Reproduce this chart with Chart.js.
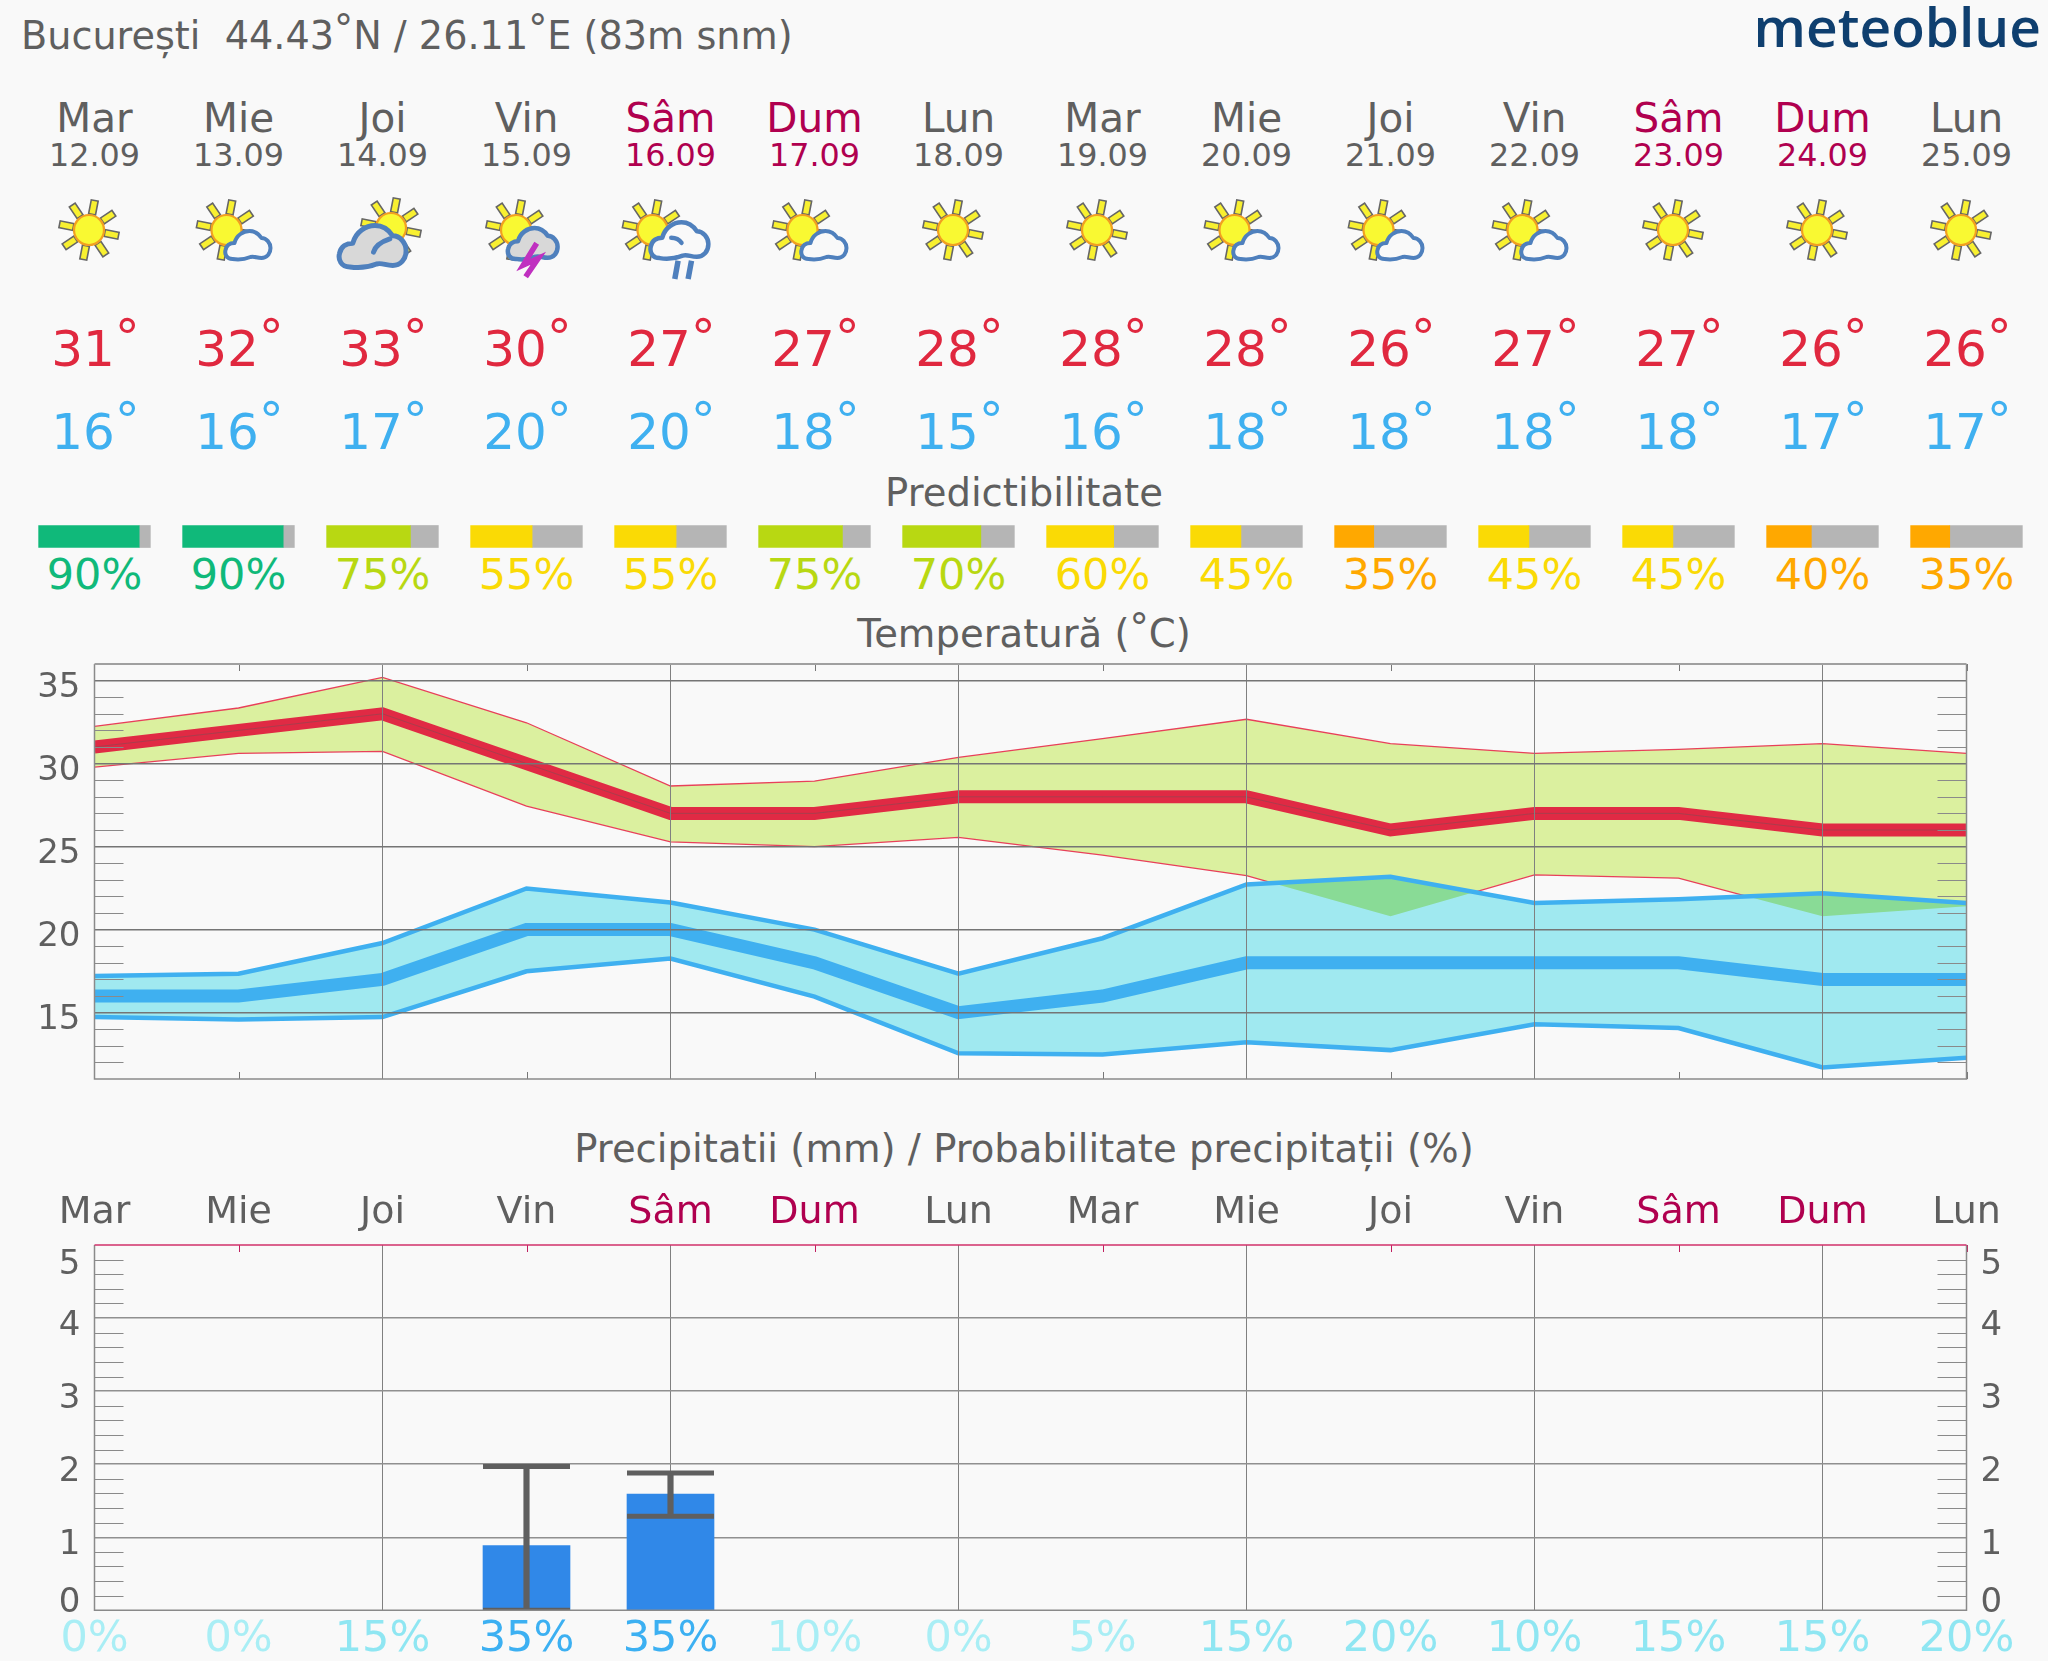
<!DOCTYPE html>
<html><head><meta charset="utf-8">
<script src="https://cdn.jsdelivr.net/npm/chart.js@4"></script>
<style>
html,body{margin:0;padding:0;background:#f9f9f9;width:2048px;height:1661px;overflow:hidden}
canvas,svg.page{position:absolute;left:0}
svg.page{top:0}
text{font-family:"DejaVu Sans";white-space:pre}
</style></head><body>
<svg class="page" id="page" width="2048" height="1661" xmlns="http://www.w3.org/2000/svg"></svg>
<canvas id="pred" width="2048" height="23" style="top:525px"></canvas>
<canvas id="temp" width="2048" height="440" style="top:650px"></canvas>
<canvas id="rain" width="2048" height="481" style="top:1180px"></canvas>
<script>
const days=['Mar','Mie','Joi','Vin','Sâm','Dum','Lun','Mar','Mie','Joi','Vin','Sâm','Dum','Lun'];
const dates=['12.09','13.09','14.09','15.09','16.09','17.09','18.09','19.09','20.09','21.09','22.09','23.09','24.09','25.09'];
const icons=['sun','partly','cloudy','storm','rain','partly','sun','sun','partly','partly','partly','sun','sun','sun'];
const tempMax=[31,32,33,30,27,27,28,28,28,26,27,27,26,26];
const tempMin=[16,16,17,20,20,18,15,16,18,18,18,18,17,17];
const predictability=[90,90,75,55,55,75,70,60,45,35,45,45,40,35];
const maxHigh=[32.24,33.35,35.19,32.46,28.65,28.95,30.37,31.51,32.67,31.2,30.62,30.86,31.2,30.62];
const maxLow=[29.79,30.62,30.74,27.44,25.29,25.0,25.55,24.49,23.25,20.8,23.3,23.1,20.8,21.41];
const minHigh=[17.2,17.34,19.19,22.48,21.63,20.0,17.34,19.48,22.72,23.18,21.6,21.83,22.19,21.6];
const minLow=[14.73,14.58,14.73,17.49,18.26,15.96,12.55,12.48,13.22,12.74,14.3,14.07,11.7,12.28];
const precipMm=[0,0,0,0.885,1.59,0,0,0,0,0,0,0,0,0];
const precipLow=[null,null,null,0,1.286,null,null,null,null,null,null,null,null,null];
const precipHigh=[null,null,null,1.967,1.88,null,null,null,null,null,null,null,null,null];
const precipProb=[0,0,15,35,35,10,0,5,15,20,10,15,15,20];
const tempTicks=[15,20,25,30,35];
const rainTicks=[0,1,2,3,4,5];

const X0=94.5,DX=144,GREY='#5f5f5f',WKND='#b0004f',RED='#e0283f',SKY='#3fb0f0';
const dayColor=d=>(d==='Sâm'||d==='Dum')?WKND:GREY;
const predColor=p=>p>=80?'#10b97a':p>=65?'#b8d812':p>=45?'#fada05':'#ffa800';
const probColor=(p,i)=>p>=30?'#3cb0f2':(p<10||i===5)?'#a9eef5':'#8fe6f2';
const cx=i=>X0+DX*i;

/* ---------- page text and weather icons ---------- */
const NS='http://www.w3.org/2000/svg',page=document.getElementById('page');
function el(n,a,p){const e=document.createElementNS(NS,n);for(const k in a)e.setAttribute(k,a[k]);(p||page).appendChild(e);return e}
function txt(x,y,s,size,fill,anchor,extra){const t=el('text',Object.assign({x,y,'font-size':size,fill,'text-anchor':anchor||'middle'},extra||{}));t.textContent=s;return t}
function deg(x,y,parts,size,fill,anchor,dy){const t=txt(x,y,'',size,fill,anchor);let up=false;
  parts.forEach(p=>{const ring=p==='°';const s=el('tspan',{dy:ring?-dy:(up?dy:0)},t);s.textContent=p;up=ring});return t}
function sun(g){
  for(let k=0;k<8;k++){el('rect',{x:16,y:-3.5,width:14,height:7,fill:'#f8f030',stroke:'#666',"stroke-width":1.6,transform:`rotate(${-79+45*k})`},g)}
  el('circle',{r:15,fill:'#f9f932',stroke:'#f2a020','stroke-width':2.2},g);
}
const CLOUD='M8,29 C2,29 0,24 1,20 C2,15 6,13 10,13 C12,5 19,1 25,1 C31,1 35,5 37,8 C42,8 46,13 46,18 C46,24 42,28 37,28 C32,28 30,26 26,27 C21,29 14,30 8,29 Z';
function cloud(g,tx,ty,sc,fill,sw,hook){
  const c=el('g',{transform:`translate(${tx},${ty}) scale(${sc})`},g);
  el('path',{d:CLOUD,fill,stroke:'#4f80bd','stroke-width':sw/sc,'stroke-linejoin':'round'},c);
  if(hook)el('path',{d:hook,fill:'none',stroke:'#4f80bd','stroke-width':sw/sc,'stroke-linecap':'round'},c);
}
function drawIcon(type,x){
  const off={sun:-5.5,partly:-12,cloudy:8.5,storm:-10.5,rain:-18}[type];
  const g=el('g',{transform:`translate(${x+off},${type==='cloudy'?228:230})`});
  sun(g);
  if(type==='partly')cloud(g,-2,0,1,'#f9f9f9',4);
  if(type==='cloudy')cloud(g,-53,-4,1.48,'#d8d8d8',5,'M24,19 C25,15 29,12 35,10');
  if(type==='storm'){cloud(g,-9,-3,1.1,'#d8d8d8',4.5);
    el('polyline',{points:'20.7,13.3 7.3,35 22.3,28.3 9.7,46.7',fill:'none',stroke:'#c030c0','stroke-width':5.5},g)}
  if(type==='rain'){cloud(g,-3,-9,1.28,'#f9f9f9',4.5,'M17,13 C20,13 23,14 25,17');
    el('path',{d:'M25.6,30.7 L22.3,49 M39,30.7 L35.6,49',stroke:'#4f80bd','stroke-width':5.5,fill:'none'},g)}
}
deg(21,49,['București  44.43','°','N / 26.11','°','E (83m snm)'],38.2,GREY,'start',7);
const logo=txt(2041,47,'meteoblue',55,'#0f3f6f','end');logo.setAttribute('style','font-family:"Open Sans";font-weight:600');
days.forEach((d,i)=>{
  txt(cx(i),132,d,40.5,dayColor(d));
  txt(cx(i),165.5,dates[i],31.8,dayColor(d));
  deg(cx(i)+1,366,[String(tempMax[i]),'°'],50,RED,'middle',11);
  deg(cx(i)+1,448.5,[String(tempMin[i]),'°'],50,SKY,'middle',11);
  txt(cx(i),589,predictability[i]+'%',43,predColor(predictability[i]));
  drawIcon(icons[i],cx(i));
});
txt(1024,506,'Predictibilitate',38.6,GREY);
deg(1024,647,['Temperatură (','°','C)'],38.6,GREY,'middle',6);
txt(1024,1162,'Precipitatii (mm) / Probabilitate precipitații (%)',38.6,GREY);

/* ---------- Chart.js ---------- */
Chart.defaults.font.family='"DejaVu Sans"';
Chart.defaults.animation=false;
const base={responsive:false,maintainAspectRatio:false,animation:false,events:[],plugins:{legend:{display:false},tooltip:{enabled:false},title:{display:false}}};
const dayTicks=s=>{s.ticks=days.map((_,i)=>({value:i}))};
const isInner=c=>{const v=c.tick?c.tick.value:-1;return v>0&&v<days.length-1&&v%2===0};
const noMargin=(s,w)=>{s.width=w;s.paddingTop=0;s.paddingBottom=0};
const xFit=(s,h)=>{s.height=h;s.paddingLeft=0;s.paddingRight=0};

/* predictability bars */
const W=111.7/DX;
new Chart(document.getElementById('pred'),{
  type:'bar',
  data:{labels:['p'],datasets:[
    {data:predictability.map((p,i)=>({x:[i-W/2,i-W/2+W*p/100],y:'p'})),backgroundColor:predictability.map(predColor),barThickness:22,grouped:false,clip:false,order:0},
    {data:predictability.map((p,i)=>({x:[i-W/2+W*p/100,i+W/2],y:'p'})),backgroundColor:'#b5b5b5',barThickness:22,grouped:false,clip:false,order:1}
  ]},
  options:{...base,indexAxis:'y',layout:{padding:0},
    scales:{
      x:{type:'linear',min:-X0/DX,max:(2048-X0)/DX,afterBuildTicks:dayTicks,display:false},
      y:{type:'category',display:false}
    }}
});

/* temperature */
function frame(opts){return{id:'frame',afterDraw(c){
  const ctx=c.ctx,a=c.chartArea,y=c.scales.y,x=c.scales.x;
  ctx.save();ctx.lineWidth=1;ctx.strokeStyle='#8a8a8a';
  opts.minor.forEach(v=>{const p=Math.round(y.getPixelForValue(v))+.5;
    ctx.beginPath();ctx.moveTo(a.left,p);ctx.lineTo(a.left+29,p);ctx.moveTo(a.right-29,p);ctx.lineTo(a.right,p);ctx.stroke()});
  days.forEach((_,i)=>{if(i%2===0)return;const p=Math.round(x.getPixelForValue(i))+.5;
    ctx.strokeStyle=opts.topColor;ctx.beginPath();ctx.moveTo(p,a.top);ctx.lineTo(p,a.top+7);ctx.stroke();
    if(opts.bottomTicks){ctx.strokeStyle='#777';ctx.beginPath();ctx.moveTo(p,a.bottom);ctx.lineTo(p,a.bottom-7);ctx.stroke()}});
  ctx.strokeStyle='#8a8a8a';ctx.lineWidth=1.5;
  ctx.beginPath();ctx.moveTo(a.left,a.top);ctx.lineTo(a.left,a.bottom);ctx.lineTo(a.right,a.bottom);ctx.lineTo(a.right,a.top);ctx.stroke();
  ctx.strokeStyle=opts.topLine;ctx.lineWidth=opts.topWidth;ctx.beginPath();ctx.moveTo(a.left,a.top);ctx.lineTo(a.right,a.top);ctx.stroke();
  ctx.restore();
}}}
const minorTemp=[];for(let v=12;v<=34;v++)if(v%5)minorTemp.push(v);
const minorRain=[];for(let k=1;k<25;k++)if(k%5)minorRain.push(k/5);

const at=(arr)=>arr.map((y,i)=>({x:i,y}));
const line=(data,color,width,extra)=>Object.assign({data:at(data),borderColor:color,borderWidth:width,pointRadius:0,tension:0,borderJoinStyle:'miter',borderCapStyle:'butt',fill:false},extra||{});
const blend={id:'blend',
  beforeDatasetsDraw(c){c.ctx.globalCompositeOperation='multiply'},
  beforeDatasetDraw(c,args){
    const ctx=c.ctx;
    ctx.globalCompositeOperation='source-over';
    if(c.data.datasets[args.index].outsideBand){
      const u=c.getDatasetMeta(2).data,l=c.getDatasetMeta(3).data,a=c.chartArea;
      ctx.save();
      ctx.beginPath();ctx.rect(a.left,a.top,a.right-a.left,a.bottom-a.top);
      u.forEach((p,i)=>i?ctx.lineTo(p.x,p.y):ctx.moveTo(p.x,p.y));
      [...l].reverse().forEach(p=>ctx.lineTo(p.x,p.y));ctx.closePath();ctx.clip('evenodd');
    }
  },
  afterDatasetDraw(c,args){
    if(c.data.datasets[args.index].outsideBand)c.ctx.restore();
    c.ctx.globalCompositeOperation='multiply'},
  afterDatasetsDraw(c){c.ctx.globalCompositeOperation='source-over'}
};
new Chart(document.getElementById('temp'),{
  type:'line',
  data:{datasets:[
    line(maxHigh,'#e8405a',1.3,{fill:'+1',backgroundColor:'#dbf09f',order:7}),
    line(maxLow,'#e8405a',1.3,{order:6,outsideBand:true}),
    line(minHigh,SKY,4.5,{fill:'+1',backgroundColor:'#a0e9f0',order:5}),
    line(minLow,SKY,4.5,{order:4}),
    line(tempMin,SKY,13,{order:3}),
    line(tempMax,'#e02a44',13,{order:2}),
    line(tempMax,'rgba(90,90,90,0.4)',1,{order:1})
  ]},
  options:{...base,layout:{padding:{top:14,bottom:11,right:81.5,left:0}},
    scales:{
      x:{type:'linear',min:0,max:days.length-1,afterBuildTicks:dayTicks,afterFit:s=>xFit(s,0),border:{display:false},
        ticks:{display:false},grid:{z:1,drawTicks:false,lineWidth:1,color:c=>isInner(c)?'#808080':'transparent'}},
      y:{type:'linear',position:'left',min:11,max:36,afterBuildTicks:s=>{s.ticks=tempTicks.map(value=>({value}))},afterFit:s=>noMargin(s,X0),border:{display:false},
        ticks:{color:GREY,font:{size:34},padding:14,labelOffset:8,callback:v=>String(v)},
        grid:{z:1,drawTicks:false,lineWidth:1.4,color:'#757575'}}
    }},
  plugins:[blend,frame({minor:minorTemp,topColor:'#777',bottomTicks:true,topLine:'#a0a0a0',topWidth:2})]
});

/* precipitation */
const tickVal=c=>c.tick?c.tick.value:-1;
const rainLabel=v=>v===5?['','5']:v===0?['0','']:String(v);
const rainFont=c=>({size:34,lineHeight:tickVal(c)===5?'24px':tickVal(c)===0?'30px':'36px'});
const rainY=(pos,w)=>({type:'linear',position:pos,min:0,max:5,afterBuildTicks:s=>{s.ticks=rainTicks.map(value=>({value}))},afterFit:s=>noMargin(s,w),border:{display:false},
  ticks:{color:GREY,font:rainFont,padding:14,labelOffset:8,callback:rainLabel},
  grid:pos==='left'?{drawTicks:false,lineWidth:1.4,color:c=>(tickVal(c)>0&&tickVal(c)<5)?'#909090':'transparent'}:{display:false,drawTicks:false}});
new Chart(document.getElementById('rain'),{
  data:{datasets:[
    {type:'bar',data:at(precipMm),backgroundColor:'#3088e8',barThickness:87,grouped:false,order:3},
    {type:'bar',data:precipHigh.map((h,i)=>({x:i,y:h===null?null:[precipLow[i],h]})),backgroundColor:GREY,barThickness:5.5,grouped:false,order:2},
    {type:'line',data:at(precipHigh),showLine:false,pointStyle:'line',pointRadius:43.5,pointBorderWidth:5,pointBorderColor:GREY,order:1},
    {type:'line',data:at(precipLow),showLine:false,pointStyle:'line',pointRadius:43.5,pointBorderWidth:5,pointBorderColor:GREY,order:1}
  ]},
  options:{...base,layout:{padding:0},
    scales:{
      x:{type:'linear',position:'bottom',offset:false,min:0,max:days.length-1,afterBuildTicks:dayTicks,afterFit:s=>xFit(s,50.7),border:{display:false},
        ticks:{autoSkip:false,maxRotation:0,padding:4,font:{size:43},color:c=>probColor(precipProb[c.index],c.index),callback:(v,i)=>precipProb[i]+'%'},
        grid:{offset:false,drawTicks:false,lineWidth:1,color:c=>isInner(c)?'#808080':'transparent'}},
      x2:{type:'linear',position:'top',offset:false,min:0,max:days.length-1,afterBuildTicks:dayTicks,afterFit:s=>xFit(s,65),border:{display:false},
        ticks:{autoSkip:false,maxRotation:0,padding:9.5,font:{size:38},color:c=>dayColor(days[c.index]),callback:(v,i)=>days[i]},
        grid:{display:false,drawTicks:false}},
      y:rainY('left',X0),
      y2:rainY('right',81.5)
    }},
  plugins:[frame({minor:minorRain,topColor:'#c02060',bottomTicks:false,topLine:'#d0306a',topWidth:1.5})]
});
</script></body></html>
